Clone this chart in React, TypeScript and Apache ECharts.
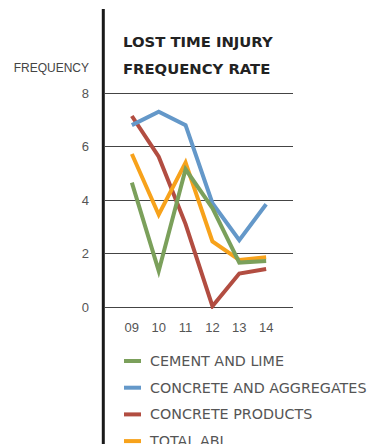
import React, { useEffect, useRef } from "react";
import * as echarts from "echarts";

const categories = ["09", "10", "11", "12", "13", "14"];
const cementAndLime = [4.65, 1.35, 5.15, 3.7, 1.66, 1.72];
const concreteAndAggregates = [6.8, 7.3, 6.8, 3.88, 2.5, 3.84];
const concreteProducts = [7.14, 5.62, 3.1, 0.03, 1.25, 1.42];
const totalAbl = [5.72, 3.45, 5.4, 2.45, 1.76, 1.86];
const yTicks = [0, 2, 4, 6, 8];

const seriesNames = ["CEMENT AND LIME", "CONCRETE AND AGGREGATES", "CONCRETE PRODUCTS", "TOTAL ABL"];
const seriesColors = ["#7ba05b", "#6498c9", "#b24d41", "#f7a21b"];

export default function App() {
  const ref = useRef<HTMLDivElement>(null);
  useEffect(() => {
    if (!ref.current) return;
    const chart = echarts.init(ref.current, null, { renderer: "svg" });
    const datasets = [cementAndLime, concreteAndAggregates, concreteProducts, totalAbl];
    const zs = [5, 4, 2, 3];
    const option: any = {
      animation: false,
      backgroundColor: "#ffffff",
      grid: { left: 105, right: 78, top: 93, bottom: 137, containLabel: false },
      xAxis: {
        type: "value",
        min: -1,
        max: 6,
        interval: 1,
        splitLine: { show: false },
        axisLine: { show: false },
        axisTick: { show: false },
        axisLabel: {
          margin: 14,
          color: "#555",
          fontFamily: "Liberation Sans",
          fontSize: 13,
          formatter: (v: number) => {
            const i = Math.round(v);
            return i >= 0 && i < categories.length && Math.abs(v - i) < 1e-6 ? categories[i] : "";
          },
        },
      },
      yAxis: {
        type: "value",
        min: yTicks[0],
        max: yTicks[yTicks.length - 1],
        interval: 2,
        axisLine: { show: false },
        axisTick: { show: true, length: 9, lineStyle: { color: "#444", width: 1 } },
        splitLine: { show: true, lineStyle: { color: "#444", width: 1 } },
        axisLabel: { margin: 16, color: "#555", fontFamily: "Liberation Sans", fontSize: 13 },
      },
      legend: {
        orient: "vertical",
        left: 124,
        top: 354,
        height: 150,
        padding: 0,
        itemWidth: 17,
        itemHeight: 4,
        itemGap: 12.7,
        icon: "rect",
        data: seriesNames,
        textStyle: { color: "#555", fontFamily: "DejaVu Sans", fontSize: 14.3, padding: [0, 0, 0, 4] },
      },
      graphic: [
        { type: "line", shape: { x1: 103.3, y1: 9, x2: 103.3, y2: 444 }, style: { stroke: "#1a1a1a", lineWidth: 3 }, z: 100 },
        { type: "text", x: 123, y: 41, style: { text: "LOST TIME INJURY", fill: "#222", font: "bold 14.8px 'DejaVu Sans'", textVerticalAlign: "middle" } },
        { type: "text", x: 123, y: 68, style: { text: "FREQUENCY RATE", fill: "#222", font: "bold 14.8px 'DejaVu Sans'", textVerticalAlign: "middle" } },
        { type: "text", x: 89, y: 68, style: { text: "FREQUENCY", fill: "#444", font: "12px 'Liberation Sans'", textAlign: "right", textVerticalAlign: "middle" } },
      ],
      series: seriesNames.map((name, k) => ({
        name,
        type: "line",
        z: zs[k],
        data: datasets[k].map((v, i) => [i, v]),
        showSymbol: false,
        symbol: "none",
        lineStyle: { width: 4, color: seriesColors[k], join: "miter" },
        itemStyle: { color: seriesColors[k] },
      })),
    };
    chart.setOption(option);
    return () => chart.dispose();
  }, []);
  return <div ref={ref} style={{ width: 371, height: 444, position: "absolute", left: 0, top: 0 }} />;
}
